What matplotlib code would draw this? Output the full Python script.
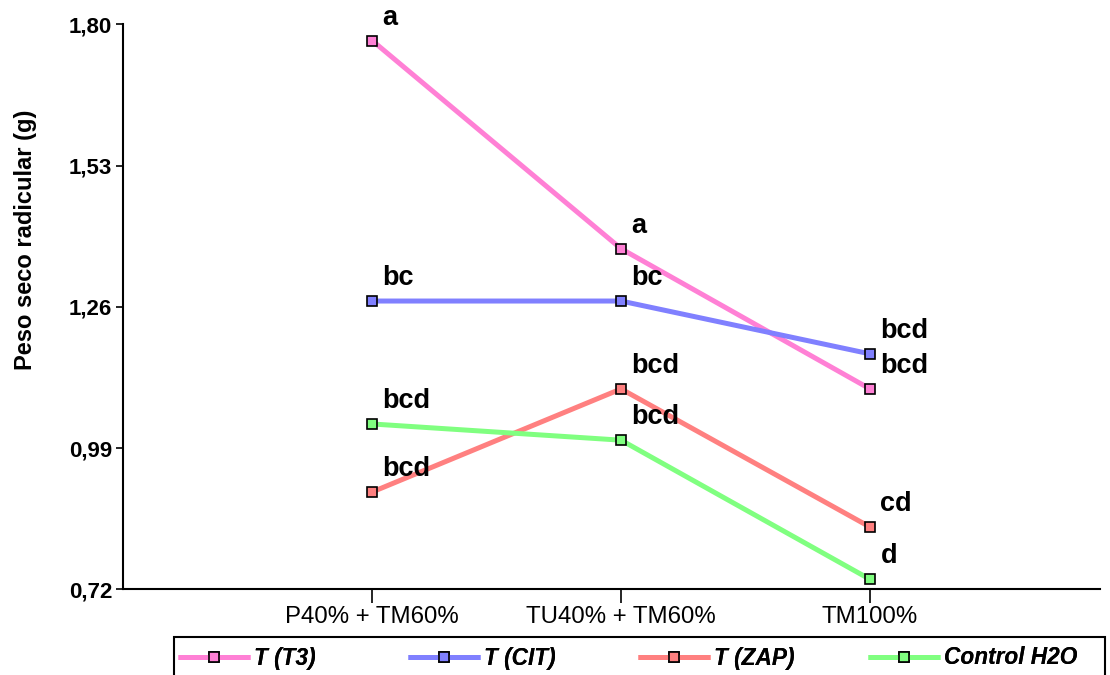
import matplotlib.pyplot as plt
from matplotlib.patches import Rectangle

plt.rcParams['font.family'] = ['Liberation Sans', 'DejaVu Sans']

# categorias del eje x
categorias = ['P40% + TM60%', 'TU40% + TM60%', 'TM100%']

# peso seco radicular (g) por tratamiento
t3 = [1.769, 1.371, 1.103]
cit = [1.271, 1.271, 1.170]
zap = [0.906, 1.103, 0.839]
control = [1.036, 1.005, 0.739]

# letras de significancia
letras_t3 = ['a', 'a', 'bcd']
letras_cit = ['bc', 'bc', 'bcd']
letras_zap = ['bcd', 'bcd', 'cd']
letras_control = ['bcd', 'bcd', 'd']

yticks = [0.72, 0.99, 1.26, 1.53, 1.80]

series = [
    ('T (T3)', t3, letras_t3, '#ff80d5'),
    ('T (CIT)', cit, letras_cit, '#8080ff'),
    ('T (ZAP)', zap, letras_zap, '#ff8080'),
    ('Control H2O', control, letras_control, '#80ff80'),
]

W, H = 1110, 675
fig = plt.figure(figsize=(W / 100, H / 100), dpi=100)
ax = fig.add_axes([0.111, 0.127, 0.880, 0.837])

x = [1, 2, 3]
lineas = []
for nombre, valores, letras, color in series:
    ln, = ax.plot(x, valores, color=color, lw=3.6, marker='s', markersize=7.5,
                  markerfacecolor=color, markeredgecolor='black', markeredgewidth=1.2,
                  label=nombre, solid_capstyle='butt')
    lineas.append(ln)
    for xi, yi, letra in zip(x, valores, letras):
        ax.annotate(letra, (xi, yi), xytext=(7.5, 11.5), textcoords='offset points',
                    fontsize=19.5, fontweight='bold', ha='left', va='baseline')

ax.set_xlim(0, 3.924)
ax.set_ylim(0.72, 1.80)
ax.set_xticks(x)
ax.set_xticklabels(categorias, fontsize=17.3)
ax.set_yticks(yticks)
ax.set_yticklabels([f'{v:.2f}'.replace('.', ',') for v in yticks],
                   fontsize=16, fontweight='bold')
ax.tick_params(axis='x', length=10, width=1.2, pad=2)
ax.tick_params(axis='y', length=5, width=1.2, pad=3)
ax.spines['top'].set_visible(False)
ax.spines['right'].set_visible(False)
ax.spines['left'].set_linewidth(1.5)
ax.spines['bottom'].set_linewidth(1.5)
ax.set_ylabel('Peso seco radicular (g)', fontsize=17, fontweight='bold')
ax.yaxis.set_label_coords(-0.088, 0.619)

# leyenda: caja inferior con cuatro entradas a intervalos iguales
caja = Rectangle((174 / W, 1 - 690 / H), (1105 - 174) / W, 53 / H,
                 transform=fig.transFigure, facecolor='white', edgecolor='black',
                 lw=1.5, clip_on=False)
fig.add_artist(caja)
for i, ln in enumerate(lineas):
    leg = fig.legend(handles=[ln], loc='center left',
                     bbox_to_anchor=((178 + 230 * i) / W, 1 - 658 / H),
                     frameon=False, borderaxespad=0, borderpad=0,
                     handlelength=3.2, handletextpad=0.15,
                     prop={'size': 16.3, 'weight': 'bold', 'style': 'italic'})
    fig.add_artist(leg)

fig.savefig('out.png', dpi=100)
